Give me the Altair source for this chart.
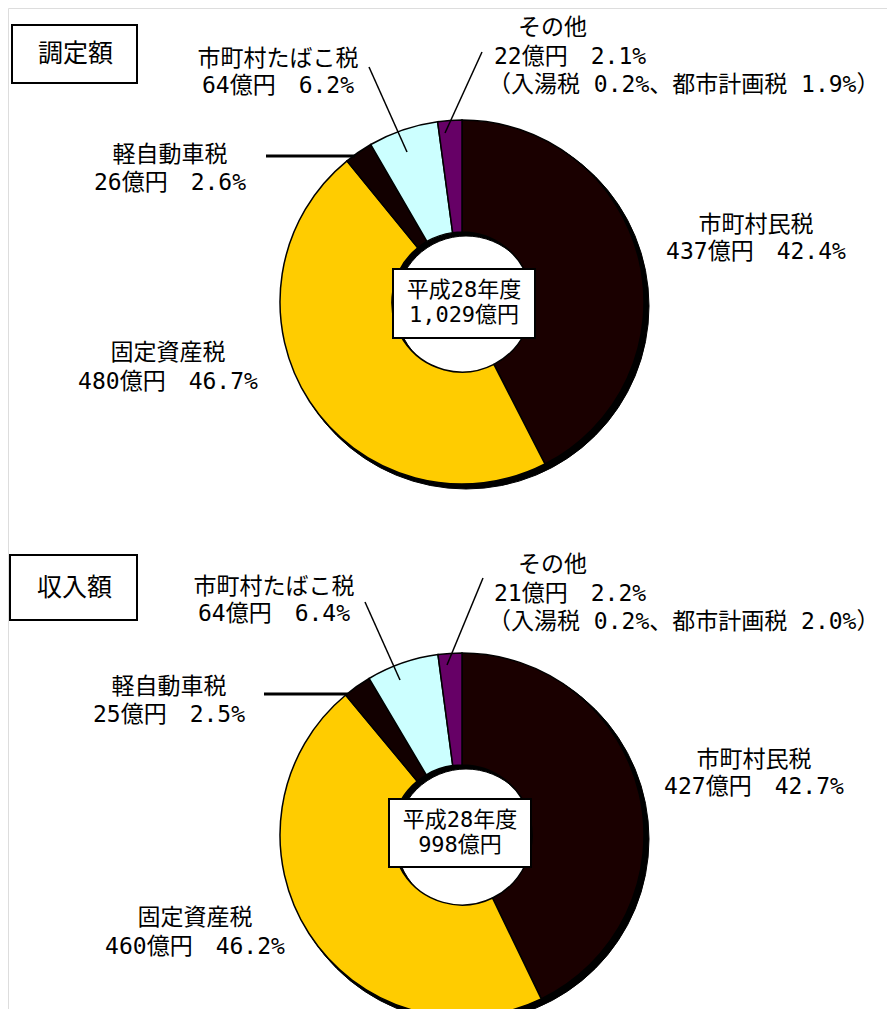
import altair as alt
import pandas as pd

# ---------------- data ----------------
categories = ["市町村民税", "固定資産税", "軽自動車税", "市町村たばこ税", "その他"]
chotei_amount = [437, 480, 26, 64, 22]
chotei_pct = [42.4, 46.7, 2.6, 6.2, 2.1]
shunyu_amount = [427, 460, 25, 64, 21]
shunyu_pct = [42.7, 46.2, 2.5, 6.4, 2.2]
chotei_other_detail = "（入湯税 0.2%、都市計画税 1.9%）"
shunyu_other_detail = "（入湯税 0.2%、都市計画税 2.0%）"
panel_titles = ["調定額", "収入額"]
totals = ["1,029億円", "998億円"]
year_label = "平成28年度"

colors = ["#1a0000", "#ffcc00", "#120000", "#ccffff", "#660066"]

FONT = "DejaVu Sans Mono, Noto Sans CJK JP"
TFONT = "Noto Sans CJK JP"
LS = 23  # label font size
W, H = 879, 1001
OFF = 8  # page margin


def px(x):
    return x - OFF


def make_donut(amounts, cy):
    cx = 462
    df = pd.DataFrame({
        "cat": categories,
        "value": amounts,
        "order": list(range(len(categories))),
    })
    shadow = alt.Chart(pd.DataFrame({"v": [1]})).mark_arc(
        outerRadius=183, innerRadius=70, fill="black", stroke="black", strokeWidth=1
    ).encode(
        theta=alt.Theta("v:Q", stack="normalize"),
        x=alt.value(px(cx + 4)),
        y=alt.value(px(cy + 4)),
    )
    arcs = alt.Chart(df).mark_arc(
        outerRadius=182, innerRadius=70, stroke="black", strokeWidth=1.5
    ).encode(
        theta=alt.Theta("value:Q", stack="normalize"),
        order=alt.Order("order:Q"),
        color=alt.Color("cat:N", scale=alt.Scale(domain=categories, range=colors), legend=None),
        x=alt.value(px(cx)),
        y=alt.value(px(cy)),
    )
    return [shadow, arcs]


def rect(x1, y1, x2, y2, sw=2):
    return alt.Chart(pd.DataFrame({"v": [0]})).mark_rect(
        fill="white", stroke="black", strokeWidth=sw
    ).encode(
        x=alt.value(px(x1)), x2=alt.value(px(x2)),
        y=alt.value(px(y1)), y2=alt.value(px(y2)),
    )


def rule(x1, y1, x2, y2, sw=1.5):
    return alt.Chart(pd.DataFrame({"v": [0]})).mark_rule(
        stroke="black", strokeWidth=sw
    ).encode(
        x=alt.value(px(x1)), x2=alt.value(px(x2)),
        y=alt.value(px(y1)), y2=alt.value(px(y2)),
    )


def text(t, x, y, size=LS, align="center", font=FONT):
    return alt.Chart(pd.DataFrame({"t": [t]})).mark_text(
        font=font, fontSize=size, color="black", align=align, baseline="middle"
    ).encode(
        text="t:N",
        x=alt.value(px(x)), y=alt.value(px(y)),
    )


def amt_line(a, p):
    return f"{a}億円\u3000{p}%"


def panel(amounts, pcts, detail, title, total, dy, box, tbox, leaders, pos):
    ls = []
    ls += make_donut(amounts, 302 + dy)
    bx1, by1, bx2, by2 = box
    ls.append(rect(bx1, by1, bx2, by2))
    ls.append(text(year_label, (bx1 + bx2) / 2, by1 + 21, size=22))
    ls.append(text(total, (bx1 + bx2) / 2, by1 + 46, size=22))
    tx1, ty1, tx2, ty2 = tbox
    ls.append(rect(tx1, ty1, tx2, ty2))
    ls.append(text(title, (tx1 + tx2) / 2 + 1, (ty1 + ty2) / 2, size=25, font=TFONT))
    for (x1, y1, x2, y2, sw) in leaders:
        ls.append(rule(x1, y1, x2, y2, sw))
    x, y = pos["tabako"]
    ls.append(text(categories[3], x, y))
    ls.append(text(amt_line(amounts[3], pcts[3]), x, y + 27))
    x, y = pos["kei"]
    ls.append(text(categories[2], x, y))
    ls.append(text(amt_line(amounts[2], pcts[2]), x, y + 28))
    x, y = pos["other"]
    ls.append(text(categories[4], x + 24, y, align="left"))
    ls.append(text(amt_line(amounts[4], pcts[4]), x, y + 29, align="left"))
    ls.append(text(detail, x - 6, y + 57, align="left"))
    x, y = pos["shimin"]
    ls.append(text(categories[0], x, y))
    ls.append(text(amt_line(amounts[0], pcts[0]), x, y + 27))
    x, y = pos["kotei"]
    ls.append(text(categories[1], x, y))
    ls.append(text(amt_line(amounts[1], pcts[1]), x, y + 29))
    return ls


layers = []
layers += panel(
    chotei_amount, chotei_pct, chotei_other_detail, panel_titles[0], totals[0], 0,
    box=(393, 269, 535, 338), tbox=(12, 25, 137, 83),
    leaders=[(369, 67, 407, 152, 1.5), (266, 156, 355, 156, 3), (482, 52, 445, 133, 1.5)],
    pos={"tabako": (278, 59), "kei": (170, 155), "other": (494, 28),
         "shimin": (756, 225), "kotei": (168, 353)},
)
layers += panel(
    shunyu_amount, shunyu_pct, shunyu_other_detail, panel_titles[1], totals[1], 533,
    box=(389, 799, 531, 867), tbox=(10, 555, 137, 620),
    leaders=[(365, 602, 400, 680, 1.5), (264, 694, 348, 694, 3), (483, 578, 447, 665, 1.5)],
    pos={"tabako": (274, 587), "kei": (169, 687), "other": (494, 565),
         "shimin": (754, 760), "kotei": (195, 918)},
)

chart = alt.layer(*layers).properties(
    width=W, height=H, padding=0,
    autosize=alt.AutoSizeParams(type="none"),
).configure_view(stroke="transparent", strokeWidth=0).configure(background="white")

chart.save("out.html", embed_options={"renderer": "svg", "actions": False})
